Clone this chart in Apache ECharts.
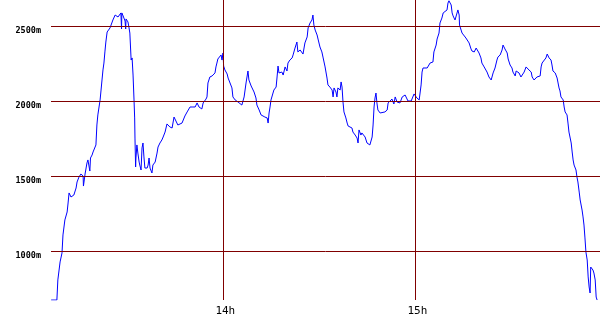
<!DOCTYPE html>
<html>
<head>
<meta charset="utf-8">
<script src="https://cdn.jsdelivr.net/npm/echarts@6/dist/echarts.min.js"></script>
<style>
html,body{margin:0;padding:0;background:#fff;}
#chart{width:600px;height:330px;}
</style>
</head>
<body>
<div id="chart"></div>
<script>
// time in minutes after 13:00
var times = [6.2,8.0,8.3,9.0,9.6,9.9,10.5,11.2,11.5,11.8,12.4,13.0,13.3,14.0,14.3,14.9,15.5,16.2,16.3,16.8,17.4,17.7,18.3,18.5,19.0,19.3,20.2,20.5,20.8,21.5,21.8,22.1,22.4,22.7,23.0,23.3,23.7,24.0,24.6,25.2,25.5,26.2,26.8,27.1,27.7,28.0,28.2,28.3,28.7,29.0,29.3,29.5,29.6,29.9,30.2,30.5,30.8,31.2,31.5,31.8,32.1,32.3,32.4,32.6,32.7,33.0,33.3,33.7,33.9,34.3,34.6,34.9,35.2,35.5,36.2,36.5,36.8,37.1,37.7,38.0,38.7,39.3,39.6,40.2,40.8,41.2,41.8,42.4,42.7,43.3,44.0,44.3,44.6,45.2,45.8,46.2,47.1,47.4,48.0,48.7,49.0,49.6,50.5,51.2,51.8,52.4,53.3,53.7,54.6,54.9,55.2,55.8,56.5,56.8,57.4,57.7,58.0,58.3,58.7,59.3,59.6,59.9,60.1,60.5,61.2,61.5,62.1,62.7,63.0,63.7,64.3,64.6,65.2,65.8,66.2,66.5,67.1,67.4,67.7,68.0,68.7,69.0,69.6,70.2,70.5,71.2,71.8,72.4,73.0,73.7,74.0,74.3,74.6,74.9,75.5,75.8,76.5,76.8,77.1,77.4,77.7,78.3,78.7,79.3,79.9,80.2,80.8,81.5,81.8,82.4,83.0,83.3,84.0,84.6,84.9,85.5,86.2,86.5,87.1,87.7,88.0,88.3,88.7,89.3,89.6,90.2,90.8,91.2,91.8,92.4,92.7,93.3,94.0,94.3,94.6,95.2,95.5,95.8,96.5,96.8,97.1,97.4,97.7,98.3,98.7,99.0,99.6,100.2,100.5,101.2,101.8,102.1,102.4,103.0,103.3,103.7,104.3,104.9,105.2,105.8,106.5,106.8,107.1,107.4,107.7,108.0,108.3,109.0,109.6,110.5,111.2,111.5,112.1,112.7,113.0,113.3,113.7,114.0,114.3,115.2,115.9,116.2,116.8,117.4,117.7,118.7,119.3,119.6,120.2,120.5,121.2,121.8,122.1,122.4,123.0,123.7,124.0,124.6,125.2,125.5,125.8,126.5,126.8,127.4,127.7,128.3,128.7,129.3,129.9,130.2,130.5,131.2,131.5,131.8,132.4,133.0,133.3,133.7,133.8,134.3,134.6,135.2,135.8,136.2,136.8,137.4,137.7,138.4,139.0,139.3,139.9,140.5,140.8,141.5,142.1,142.4,143.0,143.7,144.0,144.3,144.9,145.5,145.8,146.5,147.1,147.4,148.0,148.7,149.0,149.6,150.2,150.5,151.2,151.5,151.8,152.4,153.0,153.4,154.0,154.6,154.9,155.5,156.2,156.5,157.1,157.7,158.0,158.3,159.0,159.3,159.6,160.2,160.8,161.2,161.8,162.4,162.7,163.0,163.7,164.3,164.6,164.9,165.2,165.5,165.8,166.2,166.5,166.8,167.4,167.7,168.0,168.7,169.0,169.3,169.6,170.2,170.5,170.8,171.2,171.5,172.1,172.4,172.7,173.0,173.3,173.7,174.0,174.3,174.6,174.8,175.2,175.5,175.8,176.2,176.5,176.8];
// altitude in metres
var altitudes = [673,673,807,927,987,1107,1207,1260,1320,1387,1360,1353,1373,1420,1460,1493,1513,1500,1433,1513,1587,1607,1533,1620,1640,1660,1707,1840,1907,2007,2073,2140,2207,2253,2327,2393,2460,2460,2487,2493,2540,2573,2560,2560,2573,2587,2480,2587,2567,2567,2533,2480,2547,2553,2527,2493,2453,2273,2287,2173,2007,1887,1753,1560,1620,1707,1653,1593,1573,1540,1687,1720,1627,1553,1553,1573,1620,1553,1520,1573,1593,1653,1693,1720,1740,1760,1793,1847,1840,1827,1820,1820,1893,1880,1840,1853,1853,1860,1900,1927,1927,1960,1960,1960,1987,1960,1947,1987,2013,2027,2120,2160,2167,2180,2187,2227,2253,2280,2273,2307,2273,2320,2233,2207,2180,2153,2120,2087,2027,2007,2000,1993,1987,1973,1960,2027,2120,2160,2200,2140,2100,2087,2060,2020,1973,1940,1907,1900,1893,1887,1853,1920,1960,2007,2020,2073,2093,2160,2233,2187,2180,2193,2173,2227,2200,2253,2273,2287,2307,2353,2393,2327,2340,2327,2313,2387,2427,2487,2520,2540,2573,2507,2473,2440,2413,2360,2327,2287,2227,2153,2107,2093,2073,2027,2087,2060,2027,2087,2073,2127,2093,1993,1927,1887,1853,1833,1827,1820,1793,1773,1753,1720,1807,1773,1787,1793,1760,1720,1707,1707,1760,1840,1960,2020,2053,1987,1940,1920,1927,1927,1940,1987,1993,2013,2007,1980,2027,2033,1993,1987,2027,2040,2040,2027,2000,2000,1987,2047,2053,2020,2007,2107,2193,2220,2207,2220,2227,2253,2260,2260,2327,2373,2413,2453,2520,2553,2587,2587,2607,2653,2668,2640,2587,2567,2540,2553,2607,2573,2507,2473,2453,2440,2420,2407,2387,2347,2333,2327,2353,2340,2320,2287,2253,2227,2220,2193,2160,2140,2153,2187,2220,2273,2293,2307,2340,2373,2347,2320,2280,2240,2220,2193,2167,2200,2187,2187,2160,2173,2193,2227,2220,2207,2193,2160,2140,2127,2160,2160,2167,2227,2253,2260,2287,2313,2287,2273,2240,2200,2187,2153,2120,2087,2067,2027,2040,2007,1960,1927,1907,1853,1793,1720,1660,1607,1573,1540,1493,1460,1393,1340,1273,1227,1173,1087,993,940,827,760,720,893,893,873,853,807,693,673];
var xTickValues = [60, 120];
var xTickLabels = ['14h', '15h'];
var yTickValues = [1000, 1500, 2000, 2500];
var yTickLabels = ['1000m', '1500m', '2000m', '2500m'];

var points = times.map(function (t, i) { return [t, altitudes[i]]; });
var gridColor = '#800000';

var chart = echarts.init(document.getElementById('chart'), null, {renderer: 'canvas'});
chart.setOption({
  animation: false,
  backgroundColor: '#ffffff',
  grid: {left: 51, right: 0, top: 0, bottom: 30, containLabel: false},
  xAxis: {
    type: 'value', min: 6.16, max: 177.7,
    axisLine: {show: false}, axisTick: {show: false}, splitLine: {show: false},
    axisLabel: {
      customValues: xTickValues,
      formatter: function (v) { return xTickLabels[xTickValues.indexOf(v)] || ''; },
      fontFamily: 'DejaVu Sans Mono', fontSize: 11, color: '#000',
      margin: 6, padding: [0, 0, 0, 4]
    }
  },
  yAxis: {
    type: 'value', min: 673.3, max: 2673.3,
    axisLine: {show: false}, axisTick: {show: false}, splitLine: {show: false},
    axisLabel: {
      customValues: yTickValues,
      formatter: function (v) { return yTickLabels[yTickValues.indexOf(v)] || ''; },
      fontFamily: 'DejaVu Sans Mono', fontWeight: 'bold', fontSize: 8.5, color: '#000',
      margin: 10, verticalAlign: 'top', lineHeight: 9
    }
  },
  series: [
    {
      type: 'line', data: [], z: 1, silent: true,
      markLine: {
        silent: true, symbol: ['none', 'none'], animation: false,
        label: {show: false},
        lineStyle: {color: gridColor, width: 1, type: 'solid'},
        emphasis: {disabled: true},
        data: yTickValues.map(function (v) { return {yAxis: v}; })
          .concat(xTickValues.map(function (v) { return {xAxis: v}; }))
      }
    },
    {
      type: 'line', data: points, z: 3, silent: true,
      showSymbol: false, symbol: 'none',
      lineStyle: {color: '#0000ff', width: 1},
      emphasis: {disabled: true}
    }
  ]
});
</script>
</body>
</html>
